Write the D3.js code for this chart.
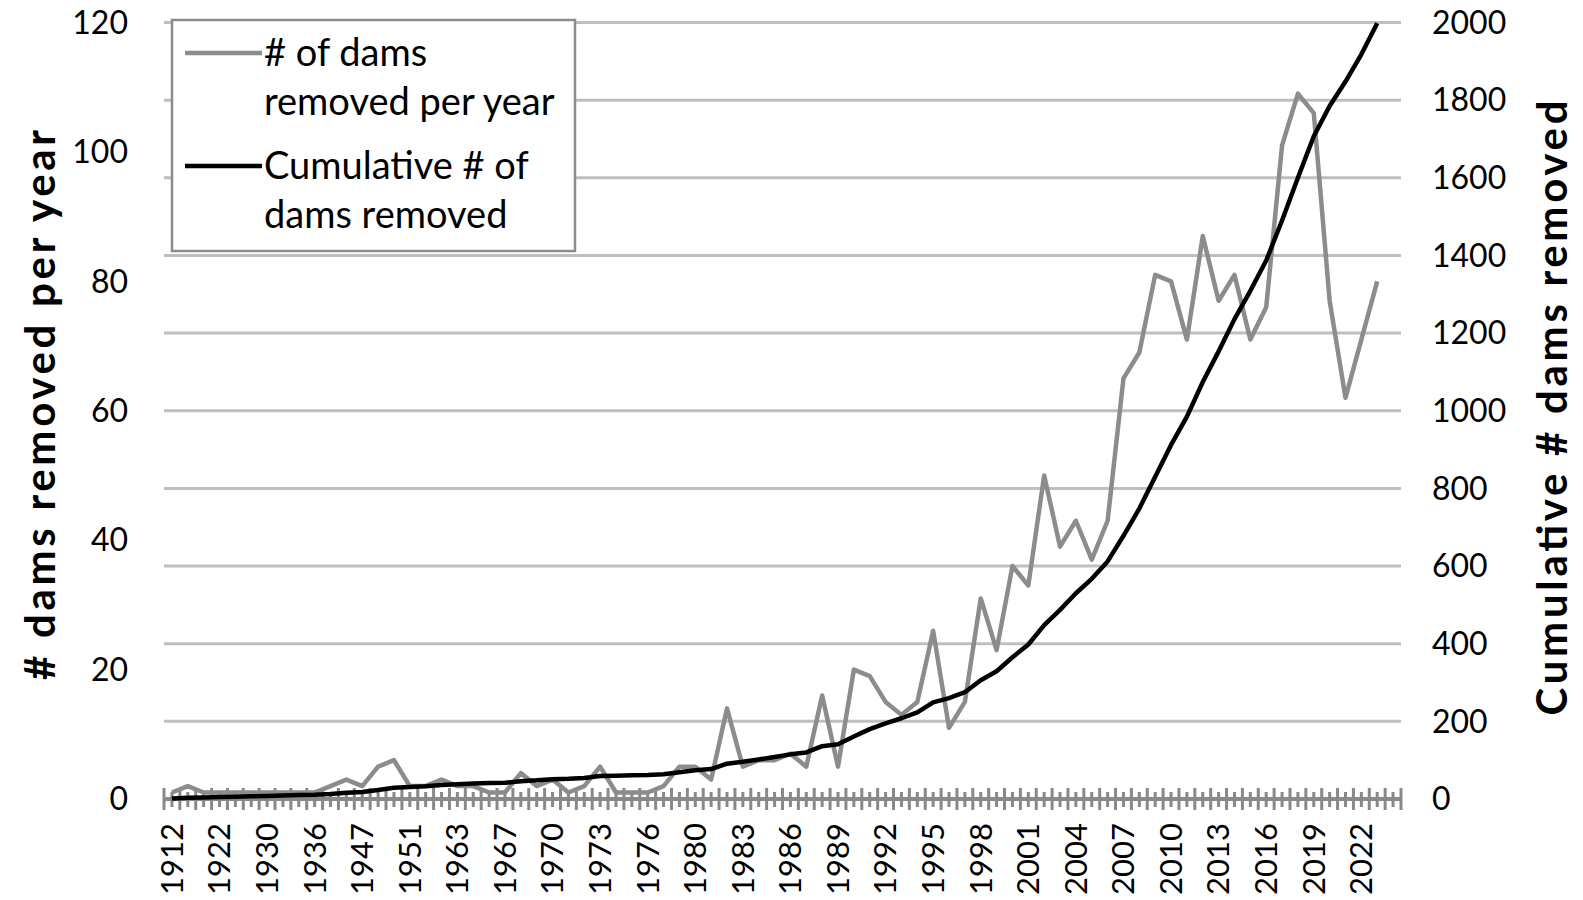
<!DOCTYPE html>
<html>
<head>
<meta charset="utf-8">
<script src="https://cdn.jsdelivr.net/npm/d3@7"></script>
<style>
  body { margin: 0; background: #ffffff; }
  text { font-family: Lato, "Open Sans", sans-serif; fill: #000; }
</style>
</head>
<body>
<script>
// chart size
let width = 1583;
let height = 900;

// categories (only years with removals before 1967, every year afterwards)
let years = ["1912","1915","1919","1922","1925","1928","1930","1932","1934","1936",
             "1938","1940","1947","1948","1949","1951","1955","1958","1963","1964",
             "1965","1967","1968","1969","1970","1971","1972","1973","1974","1975",
             "1976","1977","1978","1980","1981","1982","1983","1984","1985","1986",
             "1987","1988","1989","1990","1991","1992","1993","1994","1995","1996",
             "1997","1998","1999","2000","2001","2002","2003","2004","2005","2006",
             "2007","2008","2009","2010","2011","2012","2013","2014","2015","2016",
             "2017","2018","2019","2020","2021","2022","2023","2024"];

// # of dams removed per year (left axis)
let perYear = [1,2,1,1,1,1,1,1,1,1,
               2,3,2,5,6,2,2,3,2,2,
               1,1,4,2,3,1,2,5,1,1,
               1,2,5,5,3,14,5,6,6,7,
               5,16,5,20,19,15,13,15,26,11,
               15,31,23,36,33,50,39,43,37,43,
               65,69,81,80,71,87,77,81,71,76,
               101,109,106,77,62,71,80];

// cumulative # of dams removed (right axis)
let cumulative = [1,3,4,5,6,7,8,9,10,11,
                  13,16,18,23,29,31,33,36,38,40,
                  41,42,46,48,51,52,54,59,60,61,
                  62,64,69,74,77,91,96,102,108,115,
                  120,136,141,161,180,195,208,223,249,260,
                  275,306,329,365,398,448,487,530,567,612,
                  678,748,830,912,985,1074,1153,1236,1309,1387,
                  1490,1600,1707,1785,1848,1918,1998];

let leftTicks = [0,20,40,60,80,100,120];
let rightTicks = [0,200,400,600,800,1000,1200,1400,1600,1800,2000];

// colours
let grid_color = "#bfbfbf";
let axis_color = "#898989";
let annual_color = "#8c8c8c";
let cumulative_color = "#000000";

let svg = d3.select("body")
            .append("svg")
            .attr("width", width)
            .attr("height", height);

let plotLeft = 164, plotRight = 1401, plotTop = 22.5, plotBottom = 799;

let x = d3.scaleBand()
          .domain(years)
          .range([plotLeft, plotRight])
          .padding(0);
let yLeft = d3.scaleLinear().domain([0, 120]).range([plotBottom, plotTop]);
let yRight = d3.scaleLinear().domain([0, 2000]).range([plotBottom, plotTop]);
let cx = d => x(d) + x.bandwidth() / 2;

// gridlines
svg.append("g")
   .selectAll("line")
   .data(rightTicks.slice(1))
   .enter().append("line")
   .attr("x1", plotLeft).attr("x2", plotRight)
   .attr("y1", d => yRight(d)).attr("y2", d => yRight(d))
   .attr("stroke", grid_color)
   .attr("stroke-width", 3);

// left tick labels
svg.append("g")
   .selectAll("text")
   .data(leftTicks)
   .enter().append("text")
   .attr("x", 128)
   .attr("y", d => yLeft(d))
   .attr("dy", "0.35em")
   .attr("text-anchor", "end")
   .style("font-size", "32px")
   .text(d => d);

// right tick labels
svg.append("g")
   .selectAll("text")
   .data(rightTicks)
   .enter().append("text")
   .attr("x", 1432)
   .attr("y", d => yRight(d))
   .attr("dy", "0.35em")
   .attr("text-anchor", "start")
   .style("font-size", "32px")
   .text(d => d);

// x axis line and tick marks
let y0 = yLeft(0);
let xAxis = svg.append("g");
xAxis.append("line")
     .attr("x1", plotLeft).attr("x2", plotRight)
     .attr("y1", y0).attr("y2", y0)
     .attr("stroke", axis_color).attr("stroke-width", 4);
// tall ticks on category boundaries
xAxis.selectAll(".major")
     .data(years.concat(["end"]))
     .enter().append("line")
     .attr("class", "major")
     .attr("x1", (d, i) => plotLeft + i * x.bandwidth())
     .attr("x2", (d, i) => plotLeft + i * x.bandwidth())
     .attr("y1", y0 - 11).attr("y2", y0 + 11)
     .attr("stroke", axis_color).attr("stroke-width", 3);
// short ticks on category centres
xAxis.selectAll(".minor")
     .data(years)
     .enter().append("line")
     .attr("class", "minor")
     .attr("x1", d => cx(d)).attr("x2", d => cx(d))
     .attr("y1", y0 - 7).attr("y2", y0 + 8)
     .attr("stroke", axis_color).attr("stroke-width", 3);

// x labels, every third year
xAxis.selectAll(".xlabel")
     .data(years.filter((d, i) => i % 3 === 0))
     .enter().append("text")
     .attr("class", "xlabel")
     .attr("transform", d => "translate(" + cx(d) + "," + (y0 + 24) + ") rotate(-90)")
     .attr("dy", "0.35em")
     .attr("text-anchor", "end")
     .style("font-size", "31px")
     .text(d => d);

// lines
let annualLine = d3.line()
                   .x((d, i) => cx(years[i]))
                   .y(d => yLeft(d));
let cumLine = d3.line()
                .x((d, i) => cx(years[i]))
                .y(d => yRight(d));

svg.append("path")
   .datum(perYear)
   .attr("d", annualLine)
   .attr("fill", "none")
   .attr("stroke", annual_color)
   .attr("stroke-width", 4.5)
   .attr("stroke-linejoin", "round");

svg.append("path")
   .datum(cumulative)
   .attr("d", cumLine)
   .attr("fill", "none")
   .attr("stroke", cumulative_color)
   .attr("stroke-width", 4.5)
   .attr("stroke-linejoin", "round");

// axis titles
svg.append("text")
   .attr("transform", "translate(40,405) rotate(-90)")
   .attr("text-anchor", "middle")
   .attr("dy", "0.35em")
   .attr("textLength", 550)
   .attr("lengthAdjust", "spacing")
   .style("font-size", "42px")
   .style("font-weight", "bold")
   .text("# dams removed per year");

svg.append("text")
   .attr("transform", "translate(1552,408) rotate(-90)")
   .attr("text-anchor", "middle")
   .attr("dy", "0.35em")
   .attr("textLength", 615)
   .attr("lengthAdjust", "spacing")
   .style("font-size", "42px")
   .style("font-weight", "bold")
   .text("Cumulative # dams removed");

// legend
let legend = svg.append("g");
legend.append("rect")
      .attr("x", 172).attr("y", 20)
      .attr("width", 403).attr("height", 231)
      .attr("fill", "#ffffff")
      .attr("stroke", "#8c8c8c")
      .attr("stroke-width", 2.5);

let legendItems = [
  { color: annual_color, lines: ["# of dams", "removed per year"], y: 53 },
  { color: cumulative_color, lines: ["Cumulative # of", "dams removed"], y: 166 }
];
legendItems.forEach(function(item) {
  legend.append("line")
        .attr("x1", 185).attr("x2", 262)
        .attr("y1", item.y).attr("y2", item.y)
        .attr("stroke", item.color)
        .attr("stroke-width", 4.5);
  item.lines.forEach(function(t, k) {
    legend.append("text")
          .attr("x", 264)
          .attr("y", item.y + k * 49)
          .attr("dy", "0.35em")
          .style("font-size", "38px")
          .text(t);
  });
});
</script>
</body>
</html>
